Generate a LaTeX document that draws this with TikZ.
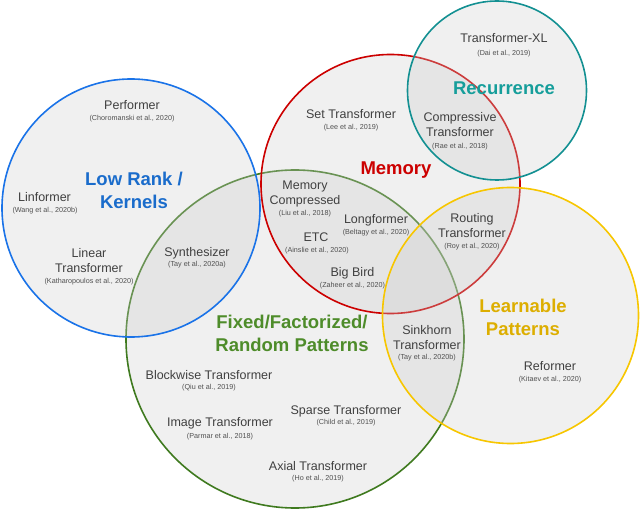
\documentclass[tikz,border=0pt]{standalone}
\usepackage{fontspec}
\setmainfont{Liberation Sans}
\usepackage{tikz}

\definecolor{rankblue}{HTML}{1A73E8}
\definecolor{ranktext}{HTML}{1A6CCB}
\definecolor{memred}{HTML}{CC0000}
\definecolor{fixgreen}{HTML}{3F7A1F}
\definecolor{fixtext}{HTML}{4E8C2A}
\definecolor{recteal}{HTML}{139092}
\definecolor{rectext}{HTML}{169E9B}
\definecolor{learnyellow}{HTML}{F7C600}
\definecolor{learntext}{HTML}{DDAE00}
\definecolor{nametext}{HTML}{404040}
\definecolor{citetext}{HTML}{505050}

\tikzset{
  group/.style = {line width = 1.6pt, fill = black!20, fill opacity = .3},
  model/.style = {anchor = base, align = center, text = nametext,
                  inner sep = 0pt, font = \fontsize{12.5}{15}\selectfont},
  cite/.style  = {anchor = base, text = citetext, inner sep = 0pt,
                  font = \fontsize{7.2}{8}\selectfont},
  title/.style = {anchor = base, align = center, inner sep = 0pt,
                  font = \fontsize{18.5}{23}\selectfont\bfseries}
}

\begin{document}
\begin{tikzpicture}[x = 1pt, y = -1pt]
\useasboundingbox (0, 0) rectangle (640, 510);

\draw [group, draw = fixgreen]    (295, 339) circle (169pt);
\draw [group, draw = memred]      (390.5, 184) circle (129.5pt);
\draw [group, draw = rankblue]    (131, 208) circle (129pt);
\draw [group, draw = recteal]     (497, 90.5) circle (89.5pt);
\draw [group, draw = learnyellow] (510.5, 315.5) circle (128pt);

\node [title, text = ranktext]   (rank)  at (134, 208.5) {Low Rank /\\Kernels};
\node [title, text = memred]     (mem)   at (396, 174.5) {Memory};
\node [title, text = rectext]    (rec)   at (504, 94.5)  {Recurrence};
\node [title, text = fixtext]    (fix)   at (292, 351.5) {Fixed/Factorized/\\Random Patterns};
\node [title, text = learntext]  (learn) at (523, 335.5) {Learnable\\Patterns};

\node [model] (perf)  at (132, 110) {Performer};
\node [cite]  (perfc) at (132, 120.5) {(Choromanski et al., 2020)};
\node [model] (linf)  at (44.5, 202) {Linformer};
\node [cite]  (linfc) at (45, 212.5) {(Wang et al., 2020b)};
\node [model] (lint)  at (89, 273) {Linear\\Transformer};
\node [cite]  (lintc) at (89, 283.5) {(Katharopoulos et al., 2020)};
\node [model] (syn)   at (197, 257) {Synthesizer};
\node [cite]  (sync)  at (197, 266.5) {(Tay et al., 2020a)};

\node [model] (txl)   at (504, 43) {Transformer-XL};
\node [cite]  (txlc)  at (504, 55.5) {(Dai et al., 2019)};
\node [model] (set)   at (351, 119) {Set Transformer};
\node [cite]  (setc)  at (351, 129.5) {(Lee et al., 2019)};
\node [model] (comp)  at (460, 137) {Compressive\\Transformer};
\node [cite]  (compc) at (460, 148.5) {(Rae et al., 2018)};

\node [model] (memc)  at (305, 205) {Memory\\Compressed};
\node [cite]  (memcc) at (305, 215.5) {(Liu et al., 2018)};
\node [model] (long)  at (376, 224) {Longformer};
\node [cite]  (longc) at (376, 234.5) {(Beltagy et al., 2020)};
\node [model] (etc)   at (316, 242) {ETC};
\node [cite]  (etcc)  at (317, 252.5) {(Ainslie et al., 2020)};
\node [model] (bird)  at (352.5, 277) {Big Bird};
\node [cite]  (birdc) at (352.5, 287.5) {(Zaheer et al., 2020)};
\node [model] (rout)  at (472, 238) {Routing\\Transformer};
\node [cite]  (routc) at (472, 248.5) {(Roy et al., 2020)};
\node [model] (sink)  at (427, 350) {Sinkhorn\\Transformer};
\node [cite]  (sinkc) at (427, 359.5) {(Tay et al., 2020b)};
\node [model] (ref)   at (550, 371) {Reformer};
\node [cite]  (refc)  at (550, 381.5) {(Kitaev et al., 2020)};

\node [model] (block) at (209, 380) {Blockwise Transformer};
\node [cite]  (blockc) at (209, 389.5) {(Qiu et al., 2019)};
\node [model] (spar)  at (346, 415) {Sparse Transformer};
\node [cite]  (sparc) at (346, 424.5) {(Child et al., 2019)};
\node [model] (img)   at (220, 427) {Image Transformer};
\node [cite]  (imgc)  at (220, 438.5) {(Parmar et al., 2018)};
\node [model] (axi)   at (318, 470) {Axial Transformer};
\node [cite]  (axic)  at (318, 480.5) {(Ho et al., 2019)};
\end{tikzpicture}
\end{document}
